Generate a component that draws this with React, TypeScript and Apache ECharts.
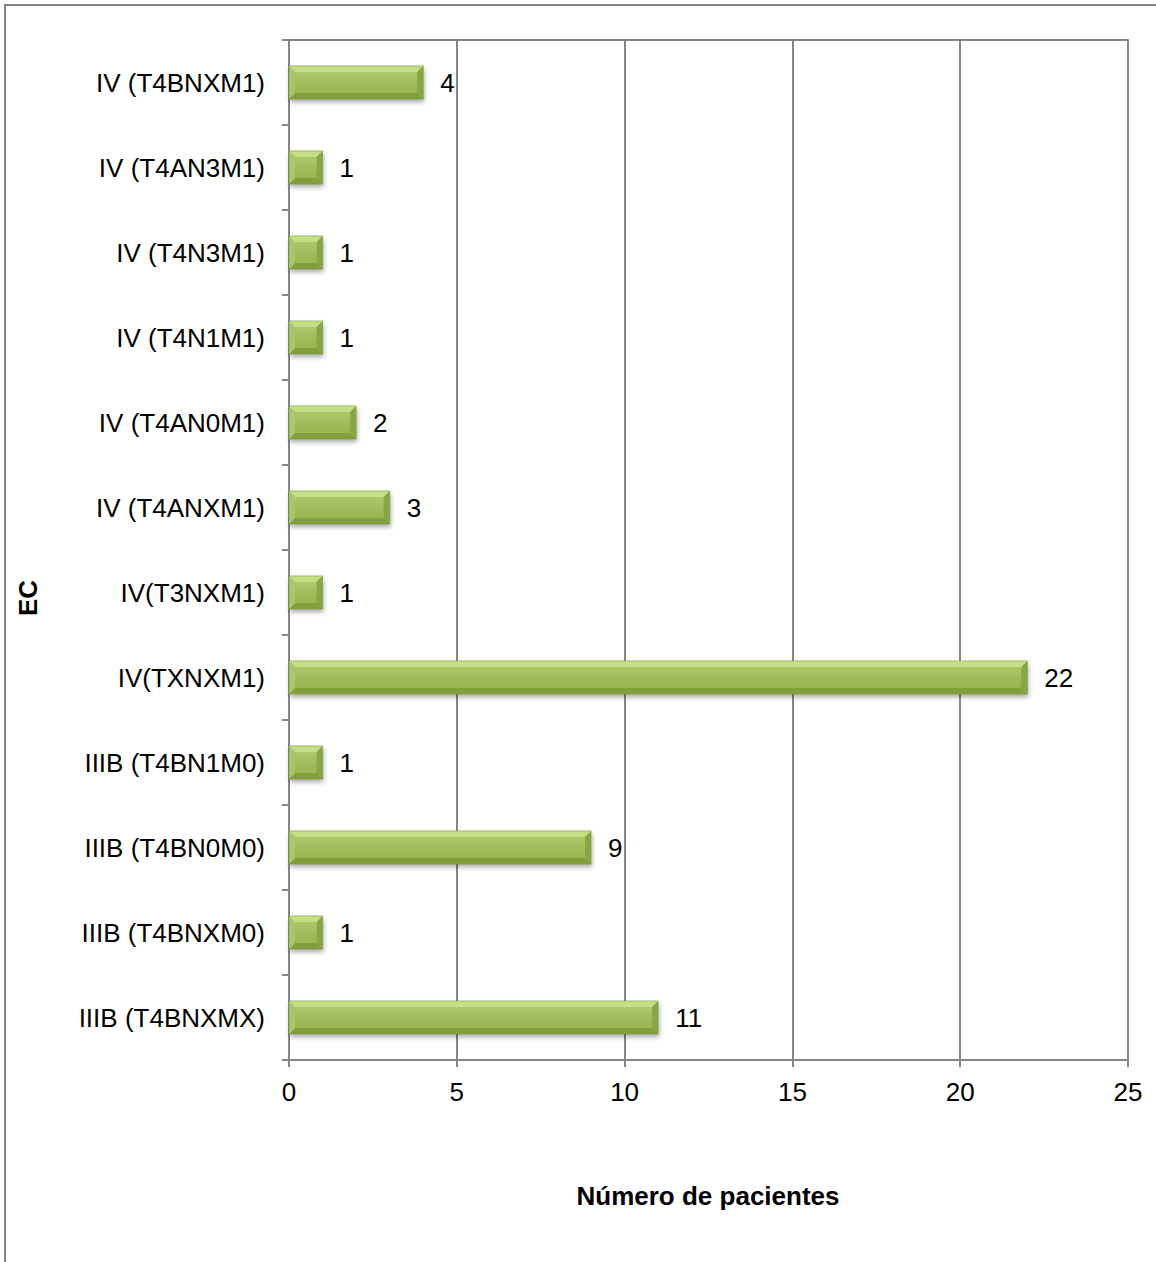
import React, { useEffect, useRef } from "react";
import * as echarts from "echarts";

// Stage categories, listed from the bottom of the chart to the top
const categories: string[] = [
  "IIIB (T4BNXMX)",
  "IIIB (T4BNXM0)",
  "IIIB (T4BN0M0)",
  "IIIB (T4BN1M0)",
  "IV(TXNXM1)",
  "IV(T3NXM1)",
  "IV (T4ANXM1)",
  "IV (T4AN0M1)",
  "IV (T4N1M1)",
  "IV (T4N3M1)",
  "IV (T4AN3M1)",
  "IV (T4BNXM1)",
];

// Number of patients per stage
const patients: number[] = [11, 1, 9, 1, 22, 1, 3, 2, 1, 1, 1, 4];

const xTicks = { min: 0, max: 25, interval: 5 };

const FONT = '"Liberation Sans", Arial, sans-serif';
const GRAY = "#868686";

export default function App() {
  const ref = useRef<HTMLDivElement>(null);

  useEffect(() => {
    if (!ref.current) return;
    const chart = echarts.init(ref.current, undefined, { renderer: "svg" });

    const bodyFill = new echarts.graphic.LinearGradient(0, 0, 0, 1, [
      { offset: 0, color: "#b2cf70" },
      { offset: 0.5, color: "#9ebe5c" },
      { offset: 1, color: "#92b24f" },
    ]);

    const renderItem = (params: any, api: any) => {
      const v = api.value(0);
      const idx = api.value(1);
      const start = api.coord([0, idx]);
      const end = api.coord([v, idx]);
      const h = api.size([0, 1])[1] * 0.39;
      const x0 = start[0];
      const x1 = end[0];
      const y0 = start[1] - h / 2;
      const y1 = start[1] + h / 2;
      const b = Math.min(6, (x1 - x0) / 2, h / 2);
      return {
        type: "group",
        children: [
          {
            type: "rect",
            shape: { x: x0, y: y0, width: x1 - x0, height: h },
            style: {
              fill: bodyFill,
              shadowBlur: 5,
              shadowOffsetX: 1,
              shadowOffsetY: 3,
              shadowColor: "rgba(0,0,0,0.35)",
            },
          },
          {
            type: "polygon",
            shape: { points: [[x0, y0], [x1, y0], [x1 - b, y0 + b], [x0 + b, y0 + b]] },
            style: { fill: "#c4e086" },
          },
          {
            type: "polygon",
            shape: { points: [[x0, y1], [x1, y1], [x1 - b, y1 - b], [x0 + b, y1 - b]] },
            style: { fill: "#80a03e" },
          },
          {
            type: "polygon",
            shape: { points: [[x0, y0], [x0 + b, y0 + b], [x0 + b, y1 - b], [x0, y1]] },
            style: { fill: "#a8c766" },
          },
          {
            type: "polygon",
            shape: { points: [[x1, y0], [x1 - b, y0 + b], [x1 - b, y1 - b], [x1, y1]] },
            style: { fill: "#87a744" },
          },
          {
            type: "rect",
            shape: { x: x0, y: y0, width: x1 - x0, height: h },
            style: { fill: "none", stroke: "#7f9c40", lineWidth: 0.6 },
          },
          {
            type: "text",
            x: x1 + 17,
            y: start[1],
            style: {
              text: String(v),
              fill: "#000",
              font: `26px ${FONT}`,
              align: "left",
              verticalAlign: "middle",
            },
          },
        ],
      };
    };

    chart.setOption({
      animation: false,
      backgroundColor: "#fff",
      grid: { left: 289, right: 28, top: 40, bottom: 202, containLabel: false },
      xAxis: [
        {
          type: "value",
          position: "bottom",
          min: xTicks.min,
          max: xTicks.max,
          interval: xTicks.interval,
          axisLine: { show: true, lineStyle: { color: GRAY, width: 2 } },
          axisTick: { show: true, length: 7, lineStyle: { color: GRAY, width: 2 } },
          axisLabel: { color: "#000", fontSize: 26, fontFamily: FONT, margin: 19 },
          splitLine: { show: true, lineStyle: { color: GRAY, width: 2 } },
        },
        {
          type: "value",
          position: "top",
          min: xTicks.min,
          max: xTicks.max,
          interval: xTicks.interval,
          axisLine: { show: true, lineStyle: { color: GRAY, width: 2 } },
          axisTick: { show: false },
          axisLabel: { show: false },
          splitLine: { show: false },
        },
      ],
      yAxis: {
        type: "category",
        data: categories,
        axisLine: { show: true, lineStyle: { color: GRAY, width: 2 } },
        axisTick: { show: true, length: 7, alignWithLabel: false, lineStyle: { color: GRAY, width: 2 } },
        axisLabel: { color: "#000", fontSize: 26, fontFamily: FONT, margin: 24 },
        splitLine: { show: false },
      },
      graphic: [
        {
          type: "rect",
          shape: { x: 5, y: 5, width: 1170, height: 1290 },
          style: { fill: "none", stroke: GRAY, lineWidth: 2 },
          silent: true,
        },
        {
          type: "text",
          x: 708,
          y: 1196,
          style: {
            text: "Número de pacientes",
            font: `bold 26px ${FONT}`,
            fill: "#000",
            align: "center",
            verticalAlign: "middle",
          },
        },
        {
          type: "text",
          x: 28,
          y: 598,
          rotation: Math.PI / 2,
          style: {
            text: "EC",
            font: `bold 26px ${FONT}`,
            fill: "#000",
            align: "center",
            verticalAlign: "middle",
          },
        },
      ],
      series: [
        {
          type: "custom",
          xAxisIndex: 0,
          yAxisIndex: 0,
          renderItem,
          encode: { x: 0, y: 1 },
          data: patients.map((v, i) => [v, i]),
        },
      ],
    });

    return () => chart.dispose();
  }, []);

  return (
    <div
      ref={ref}
      style={{ position: "absolute", left: 0, top: 0, width: 1156, height: 1262, background: "#fff" }}
    />
  );
}
